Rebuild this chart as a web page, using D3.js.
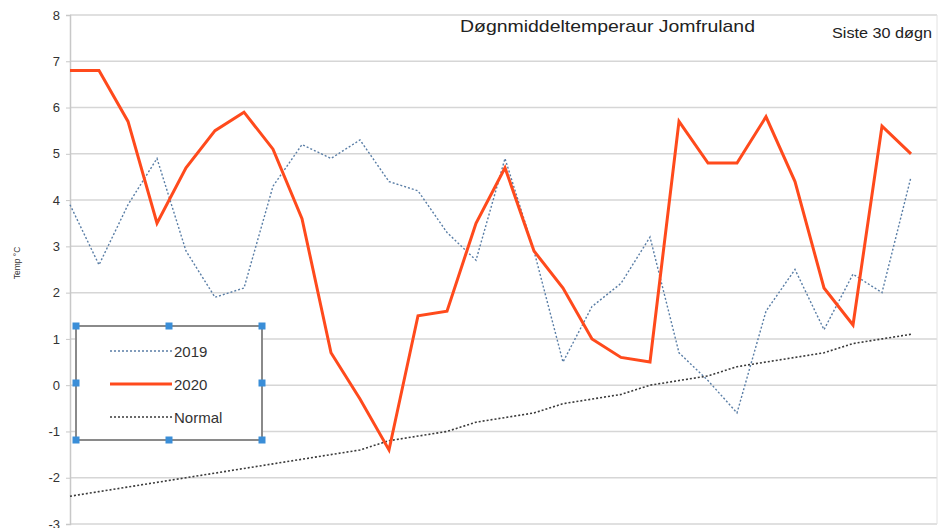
<!DOCTYPE html>
<html>
<head>
<meta charset="utf-8">
<script src="https://cdn.jsdelivr.net/npm/d3@7"></script>
<style>
  body { margin: 0; background: #fff; }
  svg { display: block; font-family: "Liberation Sans", Arial, sans-serif; }
</style>
</head>
<body>
<svg id="chart" width="938" height="528"></svg>
<script>
var days = d3.range(1, 31);
var temps2019 = [3.9, 2.6, 3.9, 4.9, 2.9, 1.9, 2.1, 4.3, 5.2, 4.9, 5.3, 4.4, 4.2, 3.3, 2.7,
  4.9, 2.9, 0.5, 1.7, 2.2, 3.2, 0.7, 0.1, -0.6, 1.6, 2.5, 1.2, 2.4, 2.0, 4.5];
var temps2020 = [6.8, 6.8, 5.7, 3.5, 4.7, 5.5, 5.9, 5.1, 3.6, 0.7, -0.3, -1.4, 1.5, 1.6, 3.5,
  4.7, 2.9, 2.1, 1.0, 0.6, 0.5, 5.7, 4.8, 4.8, 5.8, 4.4, 2.1, 1.3, 5.6, 5.0];
var tempsNormal = [-2.4, -2.3, -2.2, -2.1, -2.0, -1.9, -1.8, -1.7, -1.6, -1.5, -1.4, -1.2, -1.1, -1.0, -0.8,
  -0.7, -0.6, -0.4, -0.3, -0.2, 0.0, 0.1, 0.2, 0.4, 0.5, 0.6, 0.7, 0.9, 1.0, 1.1];
var yTicks = [8, 7, 6, 5, 4, 3, 2, 1, 0, -1, -2, -3];
var seriesNames = ["2019", "2020", "Normal"];

var series = [
  { name: seriesNames[0], values: temps2019, color: "#5a7ea6", width: 1.4, dash: "2,2" },
  { name: seriesNames[1], values: temps2020, color: "#ff4a1c", width: 3, dash: null },
  { name: seriesNames[2], values: tempsNormal, color: "#3a3a3a", width: 1.6, dash: "2,2" }
];

var svg = d3.select("#chart");
var plotLeft = 70, plotRight = 937, plotTop = 15, plotBottom = 524;

var x = d3.scaleLinear().domain([1, 30]).range([70, 911]);
var y = d3.scaleLinear().domain([-3, 8]).range([plotBottom, plotTop]);

// grid
svg.append("g")
  .selectAll("line")
  .data(yTicks)
  .join("line")
  .attr("x1", plotLeft).attr("x2", plotRight)
  .attr("y1", function (d) { return y(d); })
  .attr("y2", function (d) { return y(d); })
  .attr("stroke", "#d6d6d6")
  .attr("stroke-width", 1.5);

svg.append("line")
  .attr("x1", plotRight).attr("x2", plotRight)
  .attr("y1", plotTop).attr("y2", plotBottom)
  .attr("stroke", "#e2e2e2").attr("stroke-width", 1);

// y axis
var yAxis = d3.axisLeft(y).tickValues(yTicks).tickSize(4).tickPadding(6)
  .tickFormat(function (d) { return String(d); });
var yAxisG = svg.append("g").attr("transform", "translate(" + plotLeft + ",0)").call(yAxis);
yAxisG.select(".domain").attr("stroke", "#c8c8c8").attr("stroke-width", 1.5);
yAxisG.selectAll(".tick line").attr("stroke", "#c8c8c8");
yAxisG.selectAll(".tick text")
  .attr("fill", "#333")
  .style("font-size", "13px")
  .style("font-family", "Liberation Sans, Arial, sans-serif");

svg.append("text")
  .attr("transform", "translate(20,263) rotate(-90)")
  .attr("text-anchor", "middle")
  .attr("fill", "#333")
  .style("font-size", "8.5px")
  .text("Temp °C");

// lines
var line = d3.line()
  .x(function (d, i) { return x(days[i]); })
  .y(function (d) { return y(d); });

var drawOrder = [series[2], series[0], series[1]];
svg.append("g")
  .selectAll("path")
  .data(drawOrder)
  .join("path")
  .attr("d", function (s) { return line(s.values); })
  .attr("fill", "none")
  .attr("stroke", function (s) { return s.color; })
  .attr("stroke-width", function (s) { return s.width; })
  .attr("stroke-dasharray", function (s) { return s.dash; })
  .attr("stroke-linejoin", "miter");

// titles
svg.append("text")
  .attr("x", 460).attr("y", 32)
  .attr("textLength", 295)
  .attr("lengthAdjust", "spacingAndGlyphs")
  .attr("fill", "#222")
  .style("font-size", "17px")
  .text("Døgnmiddeltemperaur Jomfruland");

svg.append("text")
  .attr("x", 832).attr("y", 38)
  .attr("textLength", 100)
  .attr("lengthAdjust", "spacingAndGlyphs")
  .attr("fill", "#222")
  .style("font-size", "14px")
  .text("Siste 30 døgn");

// legend with selection handles
var lg = { x0: 76, y0: 326, x1: 262, y1: 440 };
svg.append("rect")
  .attr("x", lg.x0).attr("y", lg.y0)
  .attr("width", lg.x1 - lg.x0).attr("height", lg.y1 - lg.y0)
  .attr("fill", "#fff")
  .attr("stroke", "#8a8a8a")
  .attr("stroke-width", 2);

var legendItem = svg.append("g")
  .selectAll("g")
  .data(series)
  .join("g")
  .attr("transform", function (s, i) { return "translate(0," + (351 + i * 33) + ")"; });

legendItem.append("line")
  .attr("x1", 110).attr("x2", 172)
  .attr("stroke", function (s) { return s.color; })
  .attr("stroke-width", function (s) { return s.width; })
  .attr("stroke-dasharray", function (s) { return s.dash; });

legendItem.append("text")
  .attr("x", 174).attr("y", 5.5)
  .attr("fill", "#333")
  .style("font-size", "15px")
  .text(function (s) { return s.name; });

var handles = [];
[lg.x0, (lg.x0 + lg.x1) / 2, lg.x1].forEach(function (hx) {
  [lg.y0, (lg.y0 + lg.y1) / 2, lg.y1].forEach(function (hy) {
    if (hx === (lg.x0 + lg.x1) / 2 && hy === (lg.y0 + lg.y1) / 2) return;
    handles.push([hx, hy]);
  });
});
svg.append("g")
  .selectAll("rect")
  .data(handles)
  .join("rect")
  .attr("x", function (d) { return d[0] - 3.5; })
  .attr("y", function (d) { return d[1] - 3.5; })
  .attr("width", 7).attr("height", 7)
  .attr("fill", "#3a8ed8");
</script>
</body>
</html>
